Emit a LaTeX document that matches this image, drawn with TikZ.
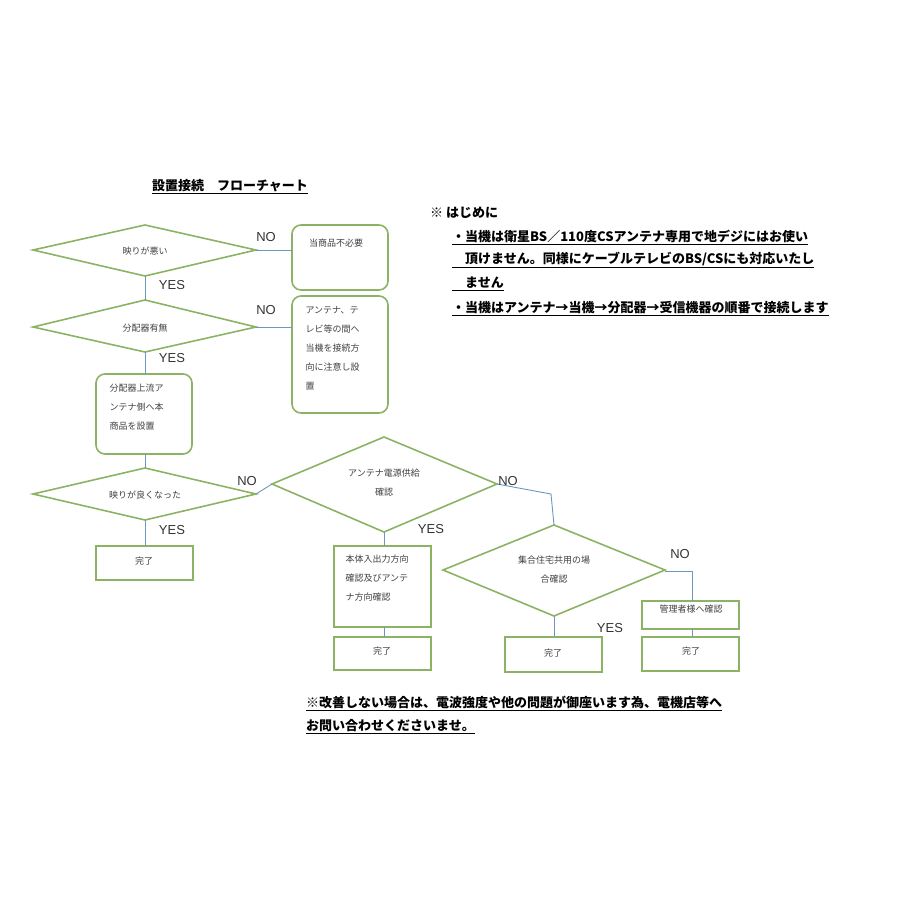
\documentclass[tikz,border=0pt]{standalone}
\usepackage{fontspec}
\setmainfont{Noto Sans CJK JP}
\newfontfamily\lat{Liberation Sans}
\usetikzlibrary{shapes.geometric}
\definecolor{gr}{RGB}{140,178,100}
\definecolor{ln}{RGB}{110,150,190}
\tikzset{
 dia/.style={draw=gr,line width=1.6pt},
 rbox/.style={draw=gr,line width=1.6pt,rounded corners=9pt},
 sbox/.style={draw=gr,line width=1.8pt},
 con/.style={draw=ln,line width=0.9pt},
 yn/.style={font=\lat\fontsize{13}{13}\selectfont,text=black!80},
 sm/.style={font=\fontsize{9}{19}\selectfont,text=black!75},
 big/.style={font=\bfseries\fontsize{13}{24}\selectfont,anchor=west,inner sep=0}
}
\begin{document}
\begin{tikzpicture}[x=1pt,y=-1pt]
\useasboundingbox (0,0) rectangle (900,900);
\node[font=\bfseries\fontsize{13}{13}\selectfont] (title) at (230,187) {\underline{設置接続　フローチャート}};
% diamonds
\draw[dia] (33,250)--(145,225)--(256,250)--(145,276)--cycle;
\node[sm] (d1) at (145,251) {映りが悪い};
\draw[dia] (33,327)--(145,300)--(256,327)--(145,352)--cycle;
\node[sm] (d2) at (145,328) {分配器有無};
\draw[dia] (33,494)--(145,468)--(256,494)--(145,520)--cycle;
\node[sm] (d3) at (145,495) {映りが良くなった};
\draw[dia] (272,484)--(384,437)--(497,484)--(384,532)--cycle;
\node[sm,align=center] (d4) at (384,483) {アンテナ電源供給\\確認};
\draw[dia] (443,570)--(554,525)--(665,570)--(554,616)--cycle;
\node[sm,align=center] (d5) at (554,570) {集合住宅共用の場\\合確認};
% boxes
\draw[rbox] (292,225) rectangle (388,290);
\node[sm] (b1) at (336,243) {当商品不必要};
\draw[rbox] (292,296) rectangle (388,413);
\node[sm,align=left,anchor=north west] (b2) at (302,303) {アンテナ、テ\\レビ等の間へ\\当機を接続方\\向に注意し設\\置};
\draw[rbox] (96,374) rectangle (192,454);
\node[sm,align=left,anchor=north west] (b3) at (106,380) {分配器上流ア\\ンテナ側へ本\\商品を設置};
\draw[sbox] (96,546) rectangle (193,580);
\node[sm] (k1) at (144,561) {完了};
\draw[sbox] (334,546) rectangle (431,627);
\node[sm,align=left,anchor=north west] (b5) at (342,551) {本体入出力方向\\確認及びアンテ\\ナ方向確認};
\draw[sbox] (334,637) rectangle (431,670);
\node[sm] (k2) at (382,651) {完了};
\draw[sbox] (505,637) rectangle (602,672);
\node[sm] (k3) at (553,653) {完了};
\draw[sbox] (642,601) rectangle (739,629);
\node[sm] (b6) at (691,609) {管理者様へ確認};
\draw[sbox] (642,637) rectangle (739,671);
\node[sm] (k4) at (691,651) {完了};
% connectors
\coordinate (p1) at (256,250); \coordinate (p2) at (292,250);
\draw[con] (p1)--(p2);
\coordinate (p3) at (256,327); \coordinate (p4) at (292,327);
\draw[con] (p3)--(p4);
\draw[con] (145,276)--(145,300);
\draw[con] (145,352)--(145,374);
\draw[con] (145,454)--(145,468);
\draw[con] (145,520)--(145,546);
\draw[con] (256,494)--(272,484);
\draw[con] (384,532)--(384,546);
\draw[con] (384,627)--(384,637);
\draw[con] (497,484)--(551,494)--(554,525);
\draw[con] (665,571)--(692,571)--(692,601);
\draw[con] (692,629)--(692,637);
\draw[con] (554,616)--(554,637);
% labels
\node[yn] (n1) at (266,237) {NO};
\node[yn] (y1) at (172,285) {YES};
\node[yn] (n2) at (266,310) {NO};
\node[yn] (y2) at (172,358) {YES};
\node[yn] (n3) at (247,481) {NO};
\node[yn] (y3) at (172,530) {YES};
\node[yn] (y4) at (431,529) {YES};
\node[yn] (n4) at (508,481) {NO};
\node[yn] (n5) at (680,554) {NO};
\node[yn] (y5) at (610,628) {YES};
% notes
\node[big] (t1) at (430,213) {※ はじめに};
\node[big] (t2) at (452,237) {\underline{・当機は衛星BS／110度CSアンテナ専用で地デジにはお使い}};
\node[big] (t3) at (452,260) {\underline{　頂けません。同様にケーブルテレビのBS/CSにも対応いたし}};
\node[big] (t4) at (452,284) {\underline{　ません}};
\node[big] (t5) at (452,309) {\underline{・当機はアンテナ→当機→分配器→受信機器の順番で接続します}};
\node[big] (t6) at (306,703) {\underline{※改善しない場合は、電波強度や他の問題が御座います為、電機店等へ}};
\node[big] (t7) at (306,727) {\underline{お問い合わせくださいませ。}};
\end{tikzpicture}
\end{document}
